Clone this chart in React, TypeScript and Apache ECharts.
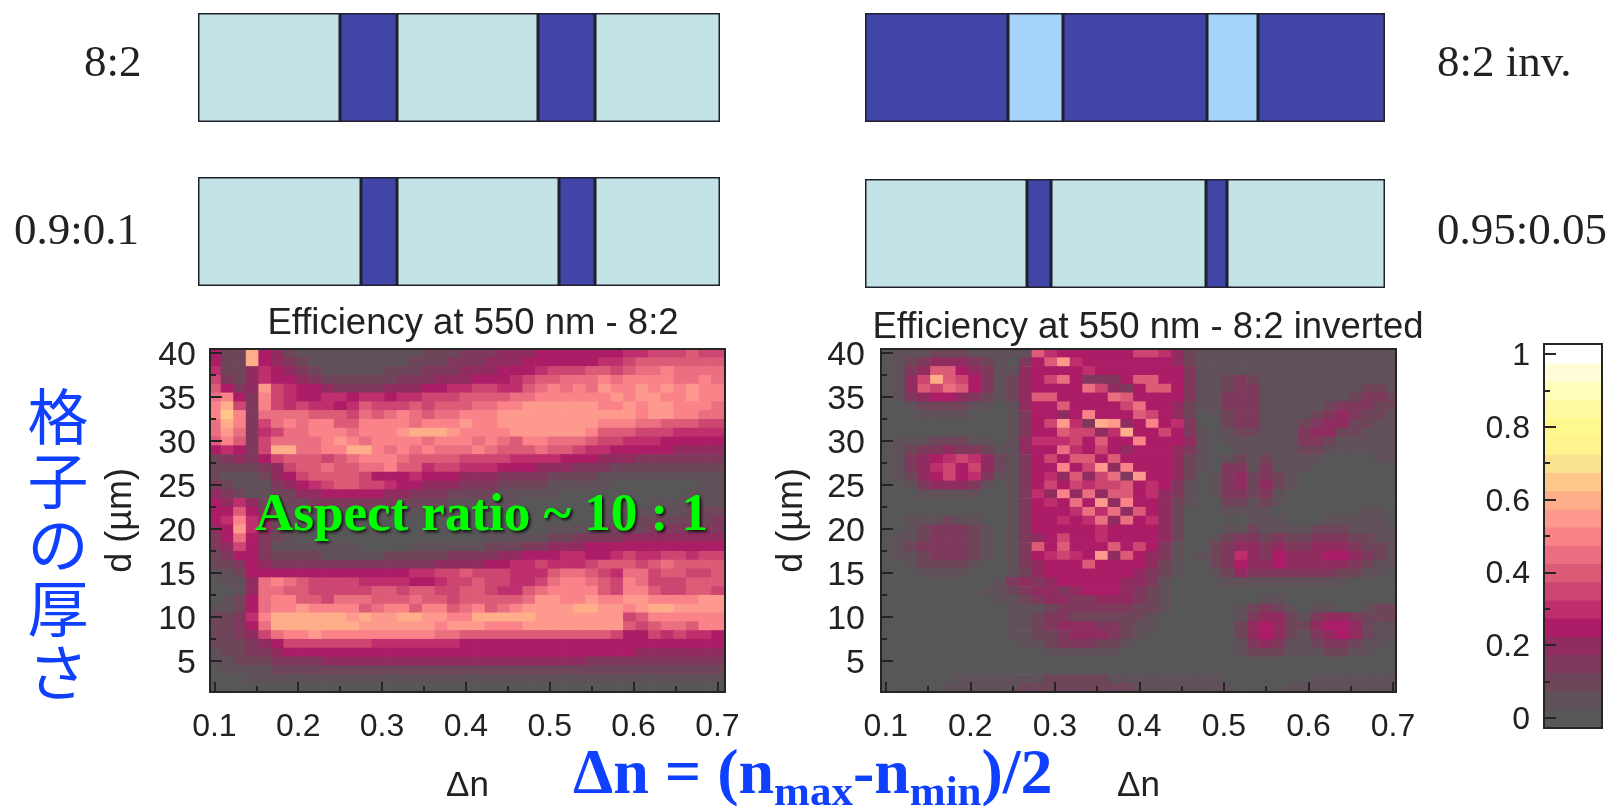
import React, { useEffect, useRef } from "react";
import * as echarts from "echarts";

const SANS = "'Liberation Sans', Arial, sans-serif";
const SERIF = "'Liberation Serif', 'Times New Roman', serif";

// Δn column centres and d row centres of the maps
const deltaN = Array.from({ length: 41 }, (_, i) => +(0.1 + 0.015 * i).toFixed(3));
const thickness = Array.from({ length: 39 }, (_, i) => 40 - i);

// one digit per cell, in steps of 0.05 (0..9, a=0.50, b=0.55, c=0.60, d=0.65); rows from d=40 down to d=2
const map82 = [
  "522c542111 1111111222 3334445555 5556677787 7",
  "522c543211 1111112223 3344455555 5667888888 8",
  "6224654321 1111222333 4445556777 887899a999 9",
  "7324655432 2222233344 4555678899 9a9aaaa99a 9",
  "8534b76554 3333444556 6776689a9a 9baabababa a",
  "9a53a76556 6566566777 888899aaaa aababbaaba a",
  "ac73a76766 5687778788 899aabbbbb baababbaaa 9",
  "ada3999988 87989a9899 aaabbbbbbb bbbbabbaa9 9",
  "9ca379a9aa 88aaaa9aaa baabbbbbbb baaa998887 7",
  "9b936799aa a9aaabcccb aaaabbbbbb a888777666 6",
  "8a8379999a ba9aaaa9aa a9a98aa999 8776665555 5",
  "56537cc99a acca9a9a99 9a98889887 6655555444 4",
  "2343578887 89aaa98888 7777666655 5444333333 3",
  "2222347889 8899a88677 6665554443 3322222222 2",
  "2111245788 8875556555 4443333222 2111111111 1",
  "3211134567 8877655444 3332222111 1100000001 1",
  "4321122445 5555443332 2221111100 0000000011 1",
  "5464212233 3333322221 1111100000 0000011111 1",
  "5585321111 1111111111 0000000000 0001111122 2",
  "56a6421100 0000000000 0000000000 0111222222 3",
  "45b6421000 0000000000 0000000111 1222233333 3",
  "3595321000 0000000000 0011111223 3334444444 4",
  "3475311111 1100001111 1122233444 5555555555 5",
  "2355322221 1111222223 3334455566 5567667767 7",
  "2235433333 3333333344 4455667666 7888789888 8",
  "1125555555 5555556677 8777666899 8769978877 8",
  "01149a9877 7766665567 78776679aa 987a977788 8",
  "0014998877 7778878877 8876689aaa a87aa87788 7",
  "01259aa887 9998889887 888889bbaa baabbaaaab b",
  "11259aabaa aa89aa8aa8 9a89abbbbc cbbabccbbb b",
  "2236accccc cbcbbccbba acccccbbbb bbb78aaaaa a",
  "22359ccccc ccbbbbbbab bbaaabbbbb bbb878998a a",
  "223479aaba aaaaaaaa99 8888888888 8875576766 5",
  "2223457777 7776666666 5555555555 5555555555 5",
  "1223345555 5555555555 5555555555 5555444444 4",
  "1122233334 4444444444 4444444444 3333333333 3",
  "0111122222 2222222222 2222222222 2222222222 2",
  "0001111111 1111111111 1111111111 1111111111 1",
  "0000000000 0000000000 0000000000 0000000000 0",
];

const map82inv = [
  "0 1 1 1 2 2 2 1 1 1 1 1 8 6 5 5 5 5 5 5 7 7 6 4 2 1 1 1 1 1 1 1 1 1 1 1 1 1 1 1 1",
  "0 1 2 3 4 4 4 3 2 1 0 3 5 8 b 6 5 5 5 5 5 5 5 4 2 1 1 1 1 1 1 1 1 1 1 1 1 1 1 1 1",
  "0 1 3 4 8 8 5 4 3 1 1 4 5 5 5 5 6 5 5 5 5 5 5 5 3 1 1 1 1 1 1 1 1 1 1 1 1 1 1 1 1",
  "0 1 4 7 c 8 7 5 3 1 2 4 5 7 9 5 3 3 3 5 8 8 5 5 3 1 1 2 3 2 1 1 1 1 1 1 1 1 1 1 1",
  "0 1 4 8 7 9 8 5 3 1 2 4 5 5 5 5 9 7 4 3 5 8 8 5 3 1 1 2 3 3 1 1 1 1 1 1 1 1 2 2 1",
  "0 1 3 4 5 5 4 3 2 1 2 4 8 8 5 5 5 5 9 8 5 5 5 5 3 1 1 3 3 3 1 1 1 1 1 1 1 2 3 3 2",
  "0 0 1 2 2 2 2 1 1 0 1 4 5 5 8 5 5 5 5 7 9 5 5 4 2 1 1 3 3 3 1 1 1 1 1 2 3 3 3 2 2",
  "0 0 0 1 1 1 1 0 0 0 1 3 5 5 4 5 a 5 5 5 8 7 5 4 2 0 1 2 3 3 1 1 1 1 2 3 4 3 2 2 1",
  "0 0 0 0 0 0 0 0 0 0 1 3 5 7 b 6 3 c b 4 5 a 5 6 3 0 0 2 3 3 1 1 1 2 3 4 4 2 2 1 1",
  "0 0 0 0 0 0 0 0 0 0 1 3 5 5 8 7 7 4 6 c 5 5 7 5 3 1 0 1 2 2 1 1 1 3 4 4 2 2 1 1 1",
  "0 1 1 1 2 2 2 1 1 0 1 4 6 6 6 7 5 8 5 5 a 5 5 5 4 1 0 1 1 1 1 1 1 3 3 2 1 1 1 1 1",
  "0 1 2 3 3 4 3 3 2 1 1 4 5 5 9 6 5 7 5 4 5 5 5 4 3 1 0 0 1 1 1 1 1 2 2 1 1 1 1 1 1",
  "0 1 3 4 5 6 7 6 4 2 1 3 5 7 5 8 8 5 8 5 5 5 5 4 2 1 0 1 2 1 2 1 1 1 1 0 0 0 0 1 1",
  "0 1 3 4 6 7 5 7 4 2 1 3 5 5 a 5 7 b 4 a 5 5 5 4 2 1 0 3 3 1 3 1 1 1 0 0 0 0 0 0 0",
  "0 1 2 4 5 7 5 6 3 1 1 3 5 6 4 8 4 7 9 3 b 5 5 4 2 0 1 3 4 2 3 2 1 0 0 0 0 0 0 0 0",
  "0 0 1 3 4 4 4 3 1 0 1 3 5 7 5 7 6 7 7 8 5 6 5 3 1 0 1 3 4 2 4 2 1 0 0 0 0 0 0 0 0",
  "0 0 0 1 1 1 1 1 0 0 1 3 6 4 a 4 9 4 8 8 5 6 4 3 1 0 1 3 3 2 3 1 0 0 0 0 0 0 0 0 0",
  "0 0 0 0 0 0 0 0 0 0 1 3 5 6 5 9 5 b 4 a 5 5 4 2 1 0 0 2 2 1 2 1 0 0 0 0 0 0 0 0 0",
  "0 0 0 0 0 0 0 0 0 0 1 3 5 5 5 6 9 6 9 4 8 5 4 2 0 0 0 1 1 1 1 0 0 0 0 0 0 0 1 1 0",
  "0 0 1 1 1 2 1 1 0 0 1 3 5 5 6 5 6 9 4 9 5 6 4 2 0 0 0 0 0 1 1 1 0 0 0 1 1 1 1 1 0",
  "0 0 1 2 3 3 3 2 1 0 1 3 5 5 5 5 5 6 5 5 5 5 4 2 0 0 0 1 1 2 1 1 1 1 2 2 2 1 1 1 1",
  "0 1 1 2 3 3 3 2 1 0 1 3 4 5 7 5 5 6 5 5 5 5 4 2 0 0 1 2 3 3 2 3 2 2 3 3 3 2 2 1 1",
  "0 1 2 3 3 3 3 2 1 0 1 3 8 5 8 5 5 5 8 5 7 5 3 1 0 0 2 3 4 4 3 4 3 3 4 4 4 3 2 2 1",
  "0 1 1 2 3 3 3 2 1 0 1 3 5 6 7 6 5 b 4 8 5 4 3 1 0 1 2 3 6 4 3 5 4 4 4 5 5 4 3 2 1",
  "0 0 1 2 2 2 2 1 0 0 1 3 4 5 5 5 8 5 5 5 5 4 2 1 0 0 2 3 5 4 4 5 4 4 4 4 4 3 2 1 1",
  "0 0 0 1 1 1 1 0 0 0 1 2 4 5 5 5 5 5 5 5 4 3 2 1 0 0 1 2 4 3 3 3 3 3 3 3 2 2 1 1 0",
  "0 0 0 0 0 0 0 0 0 1 3 4 3 4 5 5 5 5 5 4 4 3 1 0 0 0 0 1 1 1 1 1 1 1 1 1 1 0 0 0 0",
  "0 0 0 0 0 0 0 0 1 1 2 3 4 4 3 4 5 5 5 4 3 2 1 0 0 0 0 0 0 0 0 0 0 0 0 0 0 0 0 0 0",
  "0 0 0 0 0 0 0 0 0 1 1 2 3 4 4 3 3 4 4 4 3 2 1 0 0 0 0 0 0 0 1 1 0 0 0 0 0 0 0 0 0",
  "0 0 0 0 0 0 0 0 0 0 1 1 1 2 3 3 3 3 3 3 2 2 1 0 0 0 0 0 1 2 3 2 1 0 1 1 0 0 1 2 2",
  "0 0 0 0 0 0 0 0 0 0 1 1 2 3 3 2 2 2 2 2 2 1 0 0 0 0 0 0 1 3 4 4 2 1 3 4 4 3 2 2 2",
  "0 0 0 0 0 0 0 0 0 0 1 1 2 3 4 4 4 3 3 2 1 1 0 0 0 0 0 0 2 4 5 4 2 2 4 5 5 4 2 1 1",
  "0 0 0 0 0 0 0 0 0 0 1 1 2 2 3 4 4 4 3 2 1 0 0 0 0 0 0 0 2 4 5 4 2 1 3 4 5 4 2 1 1",
  "0 0 0 0 0 0 0 0 0 0 0 1 1 2 3 3 3 2 2 1 0 0 0 0 0 0 0 0 1 3 4 3 1 1 2 3 3 2 1 1 0",
  "0 0 0 0 0 0 0 0 0 0 0 0 0 1 1 1 1 1 1 0 0 0 0 0 0 0 0 0 1 2 2 2 1 1 1 2 2 1 1 0 0",
  "0 0 0 0 0 0 0 0 0 0 0 0 0 0 0 0 0 0 0 0 0 0 0 0 0 0 0 0 0 0 0 0 0 0 0 0 0 0 0 0 0",
  "0 0 0 0 0 0 0 0 0 0 0 0 0 0 0 0 0 0 0 0 0 0 0 0 0 0 0 0 0 0 0 0 0 0 0 0 0 0 0 0 0",
  "0 0 0 0 0 0 1 1 1 1 1 1 1 2 2 2 2 2 1 1 1 1 1 1 1 1 1 0 0 0 0 0 0 0 1 1 1 1 1 1 1",
  "0 0 0 0 0 1 1 1 1 1 1 2 2 2 2 2 2 2 2 2 1 1 1 1 1 1 1 1 0 0 0 0 1 1 1 1 1 1 1 1 1",
];

// colour bar: 21 levels, colours
const barLevels = [0, 0.05, 0.1, 0.15, 0.2, 0.25, 0.3, 0.35, 0.4, 0.45, 0.5, 0.55, 0.6, 0.65, 0.7, 0.75, 0.8, 0.85, 0.9, 0.95, 1];
const levelColors = ["#575757", "#5f5059", "#6e4559", "#7f395c", "#912c60", "#ad1c67", "#bf2f6d", "#cd4571", "#dc5c78", "#ea7081", "#fa8389", "#fe998e", "#feae89", "#fdc88a", "#fbe28f", "#fff48f", "#fff88f", "#fffaa2", "#fffcbc", "#fffdd8", "#ffffff"];

// grating diagrams: stripe widths along the period
const grating82 = [142, 57, 141, 57, 125];
const grating0901 = [163, 36, 162, 36, 125];
const grating82inv = [143, 55, 144, 51, 127];
const grating09505 = [162, 24, 155, 21, 158];
const DARK = "#4145a6";
const LIGHT = "#c3e3e6";
const PALE = "#a6d3fb";

const nTicks = [0.1, 0.2, 0.3, 0.4, 0.5, 0.6, 0.7];
const nMinor = [0.15, 0.25, 0.35, 0.45, 0.55, 0.65];
const dTicks = [5, 10, 15, 20, 25, 30, 35, 40];
const dMinor = [7.5, 12.5, 17.5, 22.5, 27.5, 32.5, 37.5];
const barTicks = [0, 0.2, 0.4, 0.6, 0.8, 1];
const barMinor = [0.1, 0.3, 0.5, 0.7, 0.9];

const LINE = "#252525";
const LABEL = { fontFamily: SANS, fontSize: 32, color: "#222" };

function cells(rows: string[]) {
  const out: number[][] = [];
  rows.forEach((r, ri) => {
    r.replace(/\s/g, "").split("").forEach((ch, ci) => {
      if (ci < deltaN.length) out.push([deltaN[ci], thickness[ri], parseInt(ch, 16) * 0.05]);
    });
  });
  return out;
}

function cellSeries(data: number[][], xi: number, yi: number, hw: number, hh: number) {
  return {
    type: "custom",
    xAxisIndex: xi,
    yAxisIndex: yi,
    clip: true,
    silent: true,
    encode: { x: 0, y: 1 },
    data,
    z: 2,
    renderItem: (_p: any, api: any) => {
      const a = api.coord([api.value(0) - hw, api.value(1) + hh]);
      const b = api.coord([api.value(0) + hw, api.value(1) - hh]);
      const idx = Math.round(api.value(2) / 0.05);
      return {
        type: "rect",
        shape: { x: a[0], y: a[1], width: b[0] - a[0] + 0.7, height: b[1] - a[1] + 0.7 },
        style: { fill: levelColors[idx] },
      };
    },
  };
}

function App() {
  const ref = useRef<HTMLDivElement>(null);
  useEffect(() => {
    const chart = echarts.init(ref.current!, undefined, { renderer: "svg" });

    const grid: any[] = [
      { left: 198, top: 13, width: 522, height: 109 },
      { left: 198, top: 177, width: 522, height: 109 },
      { left: 865, top: 13, width: 520, height: 109 },
      { left: 865, top: 179, width: 520, height: 109 },
      { left: 210, top: 349, width: 515, height: 343 },
      { left: 881, top: 349, width: 515, height: 343 },
      { left: 1544, top: 344, width: 58, height: 384 },
    ];

    const xAxis: any[] = [];
    const yAxis: any[] = [];
    const series: any[] = [];

    const panels = [
      { w: grating82, c: [LIGHT, DARK, LIGHT, DARK, LIGHT] },
      { w: grating0901, c: [LIGHT, DARK, LIGHT, DARK, LIGHT] },
      { w: grating82inv, c: [DARK, PALE, DARK, PALE, DARK] },
      { w: grating09505, c: [LIGHT, DARK, LIGHT, DARK, LIGHT] },
    ];
    panels.forEach((p, i) => {
      xAxis.push({ type: "value", gridIndex: i, min: 0, max: p.w.reduce((a, b) => a + b, 0), show: false });
      yAxis.push({ type: "category", gridIndex: i, data: ["grating"], show: false });
      p.w.forEach((v, k) => {
        series.push({
          type: "bar",
          name: `p${i}s${k}`,
          stack: `p${i}`,
          xAxisIndex: i,
          yAxisIndex: i,
          barWidth: "100%",
          clip: false,
          silent: true,
          data: [v],
          itemStyle: { color: p.c[k], borderColor: "#20202c", borderWidth: 1.5 },
        });
      });
    });

    const tick = (values: number[], length: number) => ({
      show: true,
      inside: true,
      length,
      customValues: values,
      lineStyle: { color: LINE, width: 2 },
    });
    const lineOnly = { show: true, onZero: false, lineStyle: { color: LINE, width: 2 } };

    const addFrame = (gi: number, xr: number[], yr: number[], xT: number[] | null, xM: number[] | null, yT: number[], yM: number[], yName: string | null, xName: string | null, yMargin: number, ySize: number, yGap: number) => {
      const xBase = xAxis.length;
      const yBase = yAxis.length;
      const xCommon = { type: "value", gridIndex: gi, min: xr[0], max: xr[1], z: 4, splitLine: { show: false } };
      const yCommon = { type: "value", gridIndex: gi, min: yr[0], max: yr[1], z: 4, splitLine: { show: false } };
      xAxis.push({
        ...xCommon,
        position: "bottom",
        axisLine: lineOnly,
        axisTick: xT ? tick(xT, 10) : { show: false },
        axisLabel: xT
          ? { show: true, customValues: xT, margin: 17, ...LABEL, formatter: (v: number) => v.toFixed(1) }
          : { show: false },
        name: xName ?? undefined,
        nameLocation: "middle",
        nameGap: 74,
        nameTextStyle: { ...LABEL, fontSize: 35 },
      });
      xAxis.push({ ...xCommon, position: "bottom", axisLine: { show: false }, axisTick: xM ? tick(xM, 6) : { show: false }, axisLabel: { show: false } });
      xAxis.push({ ...xCommon, position: "top", axisLine: lineOnly, axisTick: { show: false }, axisLabel: { show: false } });
      yAxis.push({
        ...yCommon,
        position: "left",
        axisLine: lineOnly,
        axisTick: tick(yT, 12),
        axisLabel: { show: true, customValues: yT, margin: yMargin, ...LABEL, fontSize: ySize, formatter: (v: number) => String(v) },
        name: yName ?? undefined,
        nameLocation: "middle",
        nameGap: yGap,
        nameRotate: 90,
        nameTextStyle: { ...LABEL, fontSize: 36 },
      });
      yAxis.push({ ...yCommon, position: "left", axisLine: { show: false }, axisTick: tick(yM, 6), axisLabel: { show: false } });
      yAxis.push({ ...yCommon, position: "right", axisLine: lineOnly, axisTick: { show: false }, axisLabel: { show: false } });
      return { x: xBase, y: yBase };
    };

    const left = addFrame(4, [0.0948, 0.7091], [1.47, 40.45], nTicks, nMinor, dTicks, dMinor, "d (µm)", "Δn", 14, 34, 74);
    series.push(cellSeries(cells(map82), left.x, left.y, 0.0075, 0.5));
    const right = addFrame(5, [0.0943, 0.7036], [1.47, 40.45], nTicks, nMinor, dTicks, dMinor, "d (µm)", "Δn", 16, 34, 74);
    series.push(cellSeries(cells(map82inv), right.x, right.y, 0.0075, 0.5));
    const cb = addFrame(6, [0, 1], [-0.0275, 1.0275], null, null, barTicks, barMinor, null, null, 14, 32, 60);
    series.push(cellSeries(barLevels.map((v) => [0.5, v, v]), cb.x, cb.y, 0.5, 0.025));

    const txt = (text: string, x: number, y: number, fontSize: number, extra: any = {}, family = SERIF) => ({
      type: "text",
      x,
      y,
      z: 20,
      silent: true,
      style: { text, fontSize, fontFamily: family, fill: "#222", align: "left", verticalAlign: "middle", ...extra },
    });

    const graphic: any[] = [
      txt("8:2", 84, 61, 45),
      txt("0.9:0.1", 14, 229, 45),
      txt("8:2 inv.", 1437, 61, 45),
      txt("0.95:0.05", 1437, 229, 45),
      txt("Efficiency at 550 nm - 8:2", 473, 321, 36.5, { align: "center" }, SANS),
      txt("Efficiency at 550 nm - 8:2 inverted", 1148, 325, 36.5, { align: "center" }, SANS),
      txt("Aspect ratio ~ 10 : 1", 255, 512, 53, {
        fill: "#00ff00",
        fontWeight: "bold",
        textShadowColor: "rgba(0,0,0,0.85)",
        textShadowBlur: 3,
        textShadowOffsetX: 2,
        textShadowOffsetY: 2,
      }),
      txt("格\n子\nの\n厚\nさ", 58, 541, 61, { fill: "#1040ff", align: "center", lineHeight: 64 }, "'Noto Sans CJK JP'"),
      {
        type: "text",
        x: 573,
        y: 775,
        z: 20,
        silent: true,
        style: {
          text: "{m|Δn = (n}{s|max}{m|-n}{s|min}{m|)/2}",
          align: "left",
          verticalAlign: "middle",
          rich: {
            m: { fontSize: 64, fontWeight: "bold", fontFamily: SERIF, fill: "#1040ff", color: "#1040ff", verticalAlign: "top", height: 62, lineHeight: 70 },
            s: { fontSize: 43, fontWeight: "bold", fontFamily: SERIF, fill: "#1040ff", color: "#1040ff", verticalAlign: "bottom", height: 40, lineHeight: 40 },
          },
        },
      },
    ];

    chart.setOption({
      animation: false,
      backgroundColor: "#ffffff",
      grid,
      xAxis,
      yAxis,
      series,
      graphic: { elements: graphic },
    });
    return () => chart.dispose();
  }, []);
  return <div ref={ref} style={{ position: "fixed", left: 0, top: 0, width: 1619, height: 810, filter: "blur(0.7px)" }} />;
}

export default App;
